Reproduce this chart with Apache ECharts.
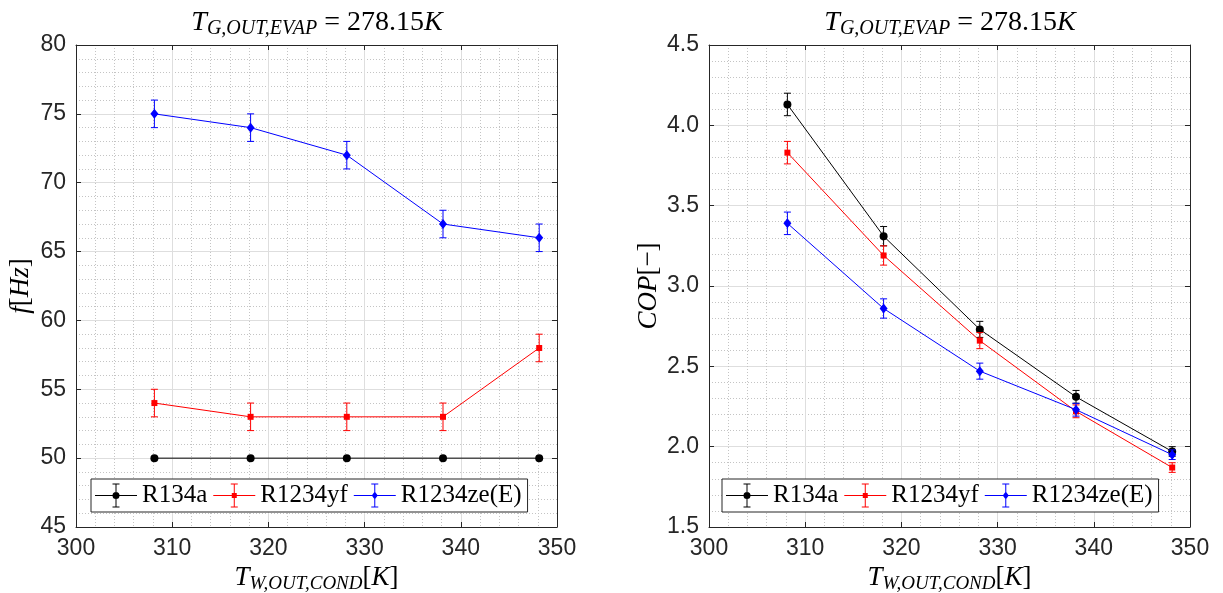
<!DOCTYPE html>
<html>
<head>
<meta charset="utf-8">
<script src="https://cdn.jsdelivr.net/npm/echarts@6/dist/echarts.min.js"></script>
<style>
  html, body { margin: 0; padding: 0; background: #ffffff; }
  #chart { width: 1223px; height: 593px; }
</style>
</head>
<body>
<div id="chart"></div>
<script>
// Condenser water outlet temperatures [K]
const condTemps = [308.15, 318.15, 328.15, 338.15, 348.15];
const refrigerants = ['R134a', 'R1234yf', 'R1234ze(E)'];

// Compressor frequency [Hz] and its uncertainty
const freqR134a = [50, 50, 50, 50, 50];
const freqR134aErr = [0, 0, 0, 0, 0];
const freqR1234yf = [54, 53, 53, 53, 58];
const freqR1234yfErr = [1, 1, 1, 1, 1];
const freqR1234ze = [75, 74, 72, 67, 66];
const freqR1234zeErr = [1, 1, 1, 1, 1];

// Coefficient of performance [-] and its uncertainty
const copR134a = [4.13, 3.31, 2.73, 2.31, 1.97];
const copR134aErr = [0.07, 0.06, 0.05, 0.04, 0.03];
const copR1234yf = [3.83, 3.19, 2.66, 2.22, 1.87];
const copR1234yfErr = [0.07, 0.06, 0.05, 0.04, 0.03];
const copR1234ze = [3.39, 2.86, 2.47, 2.23, 1.95];
const copR1234zeErr = [0.07, 0.06, 0.05, 0.04, 0.03];

// Axis tick labels
const tempTicks = [300, 310, 320, 330, 340, 350];
const freqTicks = [45, 50, 55, 60, 65, 70, 75, 80];
const copTicks = [1.5, 2.0, 2.5, 3.0, 3.5, 4.0, 4.5];

const seriesColors = ['#000000', '#ff0000', '#0000ff'];
const seriesSymbols = ['circle', 'rect', 'diamond'];
const seriesSymbolSizes = [8, 6, [8, 10]];

const AXIS_COLOR = '#262626';
const SERIF = 'Liberation Serif';
const SANS = 'Liberation Sans';

// Legend glyphs: line + error bar + marker, in a 42x24 box
const iconBase = 'M0 11.5 H42 V12.5 H0 Z M20.5 0 H21.5 V24 H20.5 Z M17.5 0 H24.5 V1 H17.5 Z M17.5 23 H24.5 V24 H17.5 Z ';
const legendIcons = [
  'path://' + iconBase + 'M17.5 12 A3.5 3.5 0 1 1 24.5 12 A3.5 3.5 0 1 1 17.5 12 Z',
  'path://' + iconBase + 'M18.5 9.5 H23.5 V14.5 H18.5 Z',
  'path://' + iconBase + 'M21 8 L24 12 L21 16 L18 12 Z'
];

function mathRich(size, subSize, drop) {
  return {
    i: { fontFamily: SERIF, fontStyle: 'italic', fontWeight: 'normal', fontSize: size, color: '#000' },
    n: { fontFamily: SERIF, fontStyle: 'normal', fontWeight: 'normal', fontSize: size, color: '#000' },
    s: { fontFamily: SERIF, fontStyle: 'italic', fontWeight: 'normal', fontSize: subSize, color: '#000', padding: [drop, 0, 0, 0] }
  };
}
const titleRich = mathRich(28, 20, 12);
const axisRich = mathRich(27, 19, 12);

function tickRange(ticks) {
  return { min: ticks[0], max: ticks[ticks.length - 1], interval: ticks[1] - ticks[0] };
}

function mainAxis(gridIndex, position, ticks, extra) {
  const r = tickRange(ticks);
  return Object.assign({
    type: 'value', gridIndex, position,
    min: r.min, max: r.max, interval: r.interval,
    axisLine: { show: true, onZero: false, lineStyle: { color: AXIS_COLOR, width: 1 } },
    axisTick: { show: true, inside: true, length: 5, lineStyle: { color: AXIS_COLOR } },
    axisLabel: { show: true, color: AXIS_COLOR, fontFamily: SANS, fontSize: 23, margin: 10 },
    splitLine: { show: true, lineStyle: { color: '#dedede', width: 1 } },
    minorTick: { show: false, splitNumber: 5 },
    minorSplitLine: { show: true, lineStyle: { color: '#c4c4c4', width: 1, type: [1, 2] } }
  }, extra || {});
}

function boxAxis(gridIndex, position, ticks) {
  const r = tickRange(ticks);
  return {
    type: 'value', gridIndex, position,
    min: r.min, max: r.max, interval: r.interval,
    axisLine: { show: true, onZero: false, lineStyle: { color: AXIS_COLOR, width: 1 } },
    axisTick: { show: true, inside: true, length: 5, lineStyle: { color: AXIS_COLOR } },
    axisLabel: { show: false },
    splitLine: { show: false }
  };
}

function lineSeries(k, axisIndex, ys) {
  return {
    type: 'line', name: refrigerants[k],
    xAxisIndex: axisIndex, yAxisIndex: axisIndex,
    data: condTemps.map((t, i) => [t, ys[i]]),
    symbol: seriesSymbols[k], symbolSize: seriesSymbolSizes[k],
    showSymbol: true,
    lineStyle: { color: seriesColors[k], width: 1 },
    itemStyle: { color: seriesColors[k], borderWidth: 0 },
    emphasis: { disabled: true },
    z: 4 + k, animation: false
  };
}

function errorSeries(k, axisIndex, ys, errs) {
  const color = seriesColors[k];
  return {
    type: 'custom', name: refrigerants[k] + ' uncertainty',
    xAxisIndex: axisIndex, yAxisIndex: axisIndex,
    data: condTemps.map((t, i) => [t, ys[i] - errs[i], ys[i] + errs[i]]),
    encode: { x: 0, y: [1, 2] },
    silent: true, z: 4 + k, animation: false,
    renderItem(params, api) {
      if (api.value(1) === api.value(2)) return null;
      const lo = api.coord([api.value(0), api.value(1)]);
      const hi = api.coord([api.value(0), api.value(2)]);
      const w = 3.5;
      const style = { stroke: color, lineWidth: 1 };
      return {
        type: 'group',
        children: [
          { type: 'line', shape: { x1: lo[0], y1: lo[1], x2: hi[0], y2: hi[1] }, style },
          { type: 'line', shape: { x1: lo[0] - w, y1: lo[1], x2: lo[0] + w, y2: lo[1] }, style },
          { type: 'line', shape: { x1: hi[0] - w, y1: hi[1], x2: hi[0] + w, y2: hi[1] }, style }
        ]
      };
    }
  };
}

const legendText = { fontFamily: SERIF, fontStyle: 'normal', fontWeight: 'normal', fontSize: 25, color: '#000' };

function legendFor(left) {
  return {
    left, top: 479,
    orient: 'horizontal',
    padding: [4, 6, 4, 4],
    itemGap: 6, itemWidth: 42, itemHeight: 24,
    borderColor: AXIS_COLOR, borderWidth: 1, backgroundColor: '#ffffff',
    selectedMode: false,
    itemStyle: { borderWidth: 0 },
    textStyle: legendText,
    data: refrigerants.map((name, k) => ({ name, icon: legendIcons[k], textStyle: legendText })),
    z: 10
  };
}

const titleText = '{i|T}{s|G,OUT,EVAP}{n| = 278.15}{i|K}';
const titleStyle = { fontFamily: SERIF, fontWeight: 'normal', fontSize: 28, color: '#000', rich: titleRich };
const xName = '{i|T}{s|W,OUT,COND}{n|[}{i|K}{n|]}';

const option = {
  backgroundColor: '#ffffff',
  animation: false,
  textStyle: { fontFamily: SERIF, fontWeight: 'normal' },
  title: [
    { text: titleText, left: 317, top: 7, textAlign: 'center', padding: 0, textStyle: titleStyle },
    { text: titleText, left: 950, top: 7, textAlign: 'center', padding: 0, textStyle: titleStyle }
  ],
  grid: [
    { left: 76, top: 45, width: 481, height: 482, containLabel: false, outerBoundsMode: 'none' },
    { left: 709, top: 45, width: 481, height: 482, containLabel: false, outerBoundsMode: 'none' }
  ],
  xAxis: [
    mainAxis(0, 'bottom', tempTicks, {
      name: xName, nameLocation: 'middle', nameGap: 34, nameTextStyle: { rich: axisRich }
    }),
    mainAxis(1, 'bottom', tempTicks, {
      name: xName, nameLocation: 'middle', nameGap: 34, nameTextStyle: { rich: axisRich }
    }),
    boxAxis(0, 'top', tempTicks),
    boxAxis(1, 'top', tempTicks)
  ],
  yAxis: [
    mainAxis(0, 'left', freqTicks, {
      name: '{i|f}{n|[}{i|Hz}{n|]}', nameLocation: 'middle', nameGap: 42, nameRotate: 90,
      nameTextStyle: { rich: axisRich }
    }),
    mainAxis(1, 'left', copTicks, {
      name: '{i|COP}{n|[−]}', nameLocation: 'middle', nameGap: 47, nameRotate: 90,
      nameTextStyle: { rich: axisRich },
      axisLabel: { show: true, color: AXIS_COLOR, fontFamily: SANS, fontSize: 23, margin: 10,
        formatter: v => v.toFixed(1) }
    }),
    boxAxis(0, 'right', freqTicks),
    boxAxis(1, 'right', copTicks)
  ],
  legend: [legendFor(91), legendFor(722)],
  series: [
    lineSeries(0, 0, freqR134a), errorSeries(0, 0, freqR134a, freqR134aErr),
    lineSeries(1, 0, freqR1234yf), errorSeries(1, 0, freqR1234yf, freqR1234yfErr),
    lineSeries(2, 0, freqR1234ze), errorSeries(2, 0, freqR1234ze, freqR1234zeErr),
    lineSeries(0, 1, copR134a), errorSeries(0, 1, copR134a, copR134aErr),
    lineSeries(1, 1, copR1234yf), errorSeries(1, 1, copR1234yf, copR1234yfErr),
    lineSeries(2, 1, copR1234ze), errorSeries(2, 1, copR1234ze, copR1234zeErr)
  ]
};

const chart = echarts.init(document.getElementById('chart'), null, { renderer: 'canvas' });
chart.setOption(option);
</script>
</body>
</html>
